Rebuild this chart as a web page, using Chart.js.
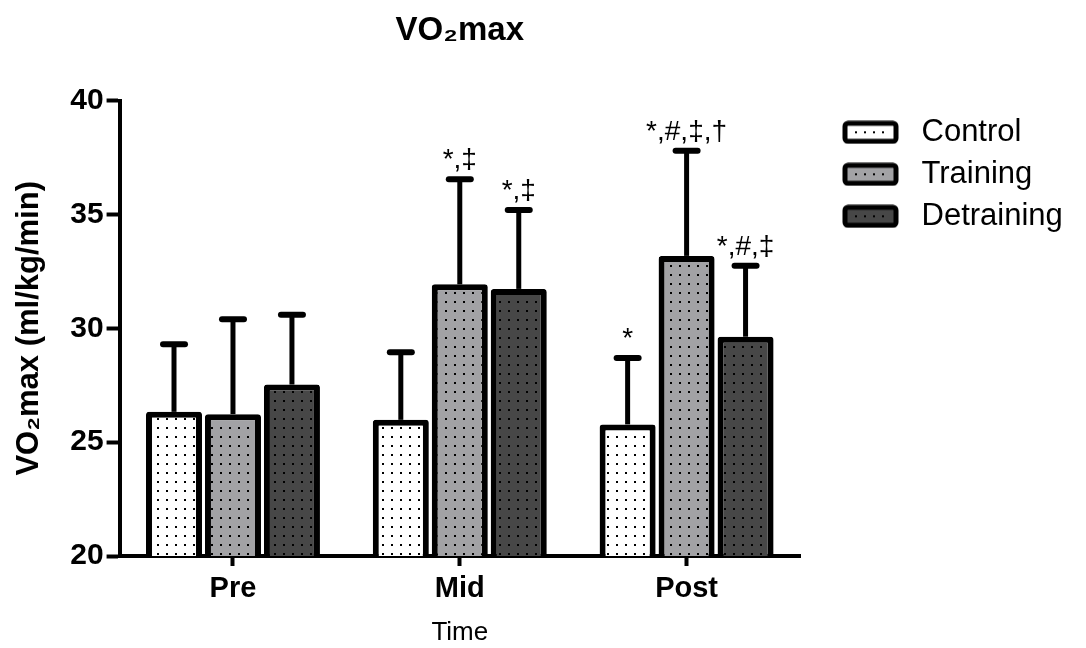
<!DOCTYPE html>
<html>
<head>
<meta charset="utf-8">
<script src="https://cdn.jsdelivr.net/npm/chart.js@4"></script>
<style>
  html, body { margin: 0; padding: 0; background: #fff; }
  #wrap { width: 1086px; height: 648px; }
</style>
</head>
<body>
<div id="wrap"><canvas id="vo2Chart" width="1086" height="648"></canvas></div>
<script>
const categories = ['Pre', 'Mid', 'Post'];
const groups = ['Control', 'Training', 'Detraining'];

const controlMean = [26.33, 25.98, 25.78];
const controlSD = [2.97, 2.97, 2.92];
const trainingMean = [26.23, 31.93, 33.18];
const trainingSD = [4.17, 4.62, 4.62];
const detrainingMean = [27.53, 31.73, 29.63];
const detrainingSD = [3.07, 3.47, 3.12];

const controlMarks = ['', '', '*'];
const trainingMarks = ['', '*,‡', '*,#,‡,†'];
const detrainingMarks = ['', '*,‡', '*,#,‡'];

const yTicks = [20, 25, 30, 35, 40];

const FONT = 'Arial, "Liberation Sans", sans-serif';
const fills = ['#ffffff', '#a2a2a5', '#474747'];

const canvas = document.getElementById('vo2Chart');
const ctx = canvas.getContext('2d');

function dotPattern(bg) {
  const c = document.createElement('canvas');
  c.width = 9; c.height = 9;
  const g = c.getContext('2d');
  g.fillStyle = bg;
  g.fillRect(0, 0, 9, 9);
  g.fillStyle = '#000';
  g.fillRect(4, 4, 2, 2);
  return ctx.createPattern(c, 'repeat');
}

// legend swatch: blank space on the left, then the boxed sample
function swatch(bg) {
  const c = document.createElement('canvas');
  c.width = 95; c.height = 24;
  const g = c.getContext('2d');
  const x0 = 34, y0 = 3, w = 51, h = 18;
  g.fillStyle = bg;
  g.fillRect(x0, y0, w, h);
  g.fillStyle = '#000';
  for (let k = 0; k < 4; k++) g.fillRect(x0 + 10 + k * 9, y0 + 8, 2, 2);
  g.lineWidth = 5;
  g.strokeStyle = '#000';
  g.beginPath();
  g.roundRect(x0, y0, w, h, 3);
  g.stroke();
  return c;
}

const datasets = [
  { label: groups[0], data: controlMean, errors: controlSD, marks: controlMarks },
  { label: groups[1], data: trainingMean, errors: trainingSD, marks: trainingMarks },
  { label: groups[2], data: detrainingMean, errors: detrainingSD, marks: detrainingMarks }
].map((d, i) => Object.assign(d, {
  backgroundColor: dotPattern(fills[i]),
  borderColor: '#000',
  borderWidth: 6,
  borderRadius: 3,
  borderSkipped: false,
  categoryPercentage: 0.78,
  barPercentage: 0.95
}));

const swatches = fills.map(swatch);

const errorBars = {
  id: 'errorBars',
  afterDatasetsDraw(chart) {
    const c = chart.ctx;
    const y = chart.scales.y;
    c.save();
    chart.data.datasets.forEach((ds, i) => {
      chart.getDatasetMeta(i).data.forEach((bar, j) => {
        const top = y.getPixelForValue(ds.data[j] + ds.errors[j]);
        c.strokeStyle = '#000';
        c.lineCap = 'butt';
        c.lineWidth = 5;
        c.beginPath();
        c.moveTo(bar.x, bar.y);
        c.lineTo(bar.x, top);
        c.stroke();
        c.lineCap = 'round';
        c.lineWidth = 6;
        c.beginPath();
        c.moveTo(bar.x - 11, top);
        c.lineTo(bar.x + 11, top);
        c.stroke();
        if (ds.marks[j]) {
          c.fillStyle = '#000';
          c.font = '28px ' + FONT;
          c.textAlign = 'center';
          c.textBaseline = 'alphabetic';
          c.fillText(ds.marks[j], bar.x, top - 11);
        }
      });
    });
    c.restore();
  }
};

new Chart(ctx, {
  type: 'bar',
  data: { labels: categories, datasets: datasets },
  plugins: [errorBars],
  options: {
    responsive: false,
    animation: false,
    layout: { padding: { left: 11, right: 23, top: 4, bottom: 0 } },
    plugins: {
      tooltip: { enabled: false },
      title: {
        display: true,
        text: 'VO₂max',
        fullSize: false,
        color: '#000',
        font: { family: FONT, size: 33, weight: 'bold' },
        padding: { top: 7, bottom: 50 }
      },
      legend: {
        position: 'right',
        align: 'start',
        fullSize: false,
        title: { display: true, text: '', font: { size: 1 }, padding: { top: 0, bottom: 4 } },
        labels: {
          color: '#000',
          font: { family: FONT, size: 31 },
          usePointStyle: true,
          pointStyleWidth: 95,
          padding: 11,
          generateLabels(chart) {
            const items = Chart.defaults.plugins.legend.labels.generateLabels(chart);
            items.forEach((it, i) => { it.pointStyle = swatches[i]; });
            return items;
          }
        }
      }
    },
    scales: {
      x: {
        grid: {
          drawOnChartArea: false,
          offset: false,
          tickLength: 10,
          tickWidth: 4,
          tickColor: '#000'
        },
        border: { color: '#000', width: 4 },
        ticks: {
          color: '#000',
          padding: 6,
          font: { family: FONT, size: 29, weight: 'bold' }
        },
        title: {
          display: true,
          text: 'Time',
          color: '#000',
          font: { family: FONT, size: 26 },
          padding: { top: 4, bottom: 0 }
        }
      },
      y: {
        min: 20,
        max: 40,
        afterBuildTicks(scale) { scale.ticks = yTicks.map(v => ({ value: v })); },
        grid: {
          drawOnChartArea: false,
          tickLength: 13,
          tickWidth: 4,
          tickColor: '#000'
        },
        border: { color: '#000', width: 4 },
        ticks: {
          color: '#000',
          padding: 3,
          font: { family: FONT, size: 30, weight: 'bold' }
        },
        title: {
          display: true,
          text: 'VO₂max (ml/kg/min)',
          color: '#000',
          font: { family: FONT, size: 31, weight: 'bold' },
          padding: { top: 0, bottom: 19 }
        }
      }
    }
  }
});
</script>
</body>
</html>
